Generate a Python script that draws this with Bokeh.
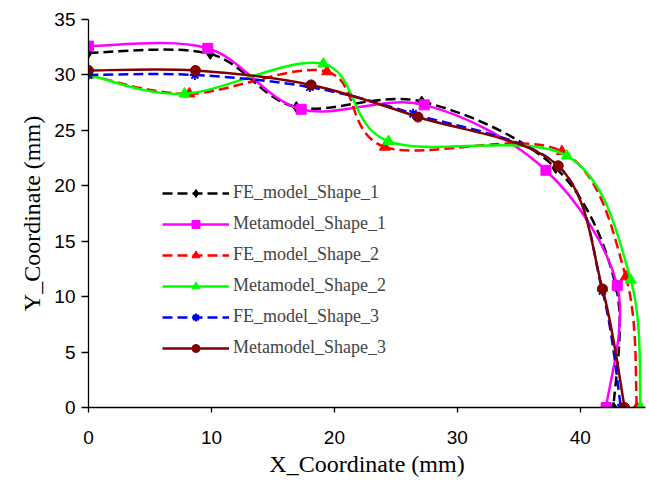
import numpy as np
from bokeh.plotting import figure
from bokeh.models import Range1d, Legend, LegendItem, FixedTicker
from bokeh.embed import file_html
from bokeh.resources import INLINE

# ---- data ----
x_fe1 = [0.0, 9.9, 16.9, 27.1, 38.0, 42.9, 42.7]
y_fe1 = [32.0, 31.9, 27.1, 27.6, 21.6, 10.9, 0.0]

x_meta1 = [0.0, 9.7, 17.3, 27.3, 37.2, 43.0, 42.1]
y_meta1 = [32.6, 32.4, 26.9, 27.3, 21.4, 11.0, 0.0]

x_fe2 = [0.0, 8.2, 19.4, 24.1, 38.5, 43.7, 44.6]
y_fe2 = [30.0, 28.3, 30.3, 23.5, 23.1, 11.8, 0.0]

x_meta2 = [0.0, 7.8, 19.1, 24.4, 38.9, 44.1, 44.9]
y_meta2 = [30.0, 28.3, 31.0, 24.0, 22.7, 11.5, 0.0]

x_fe3 = [0.0, 8.65, 18.0, 26.4, 38.2, 41.8, 43.3]
y_fe3 = [30.0, 30.0, 28.9, 26.5, 21.8, 10.5, 0.0]

x_meta3 = [0.0, 8.7, 18.1, 26.8, 38.2, 41.8, 43.6]
y_meta3 = [30.4, 30.4, 29.1, 26.2, 21.8, 10.7, 0.0]

labels = ["FE_model_Shape_1", "Metamodel_Shape_1", "FE_model_Shape_2",
          "Metamodel_Shape_2", "FE_model_Shape_3", "Metamodel_Shape_3"]
x_ticks = [0, 10, 20, 30, 40]
y_ticks = [0, 5, 10, 15, 20, 25, 30, 35]
x_title = "X_Coordinate (mm)"
y_title = "Y_Coordinate (mm)"


def smooth_segments(xs, ys):
    """Catmull-Rom style bezier control points (like a spreadsheet smoothed line)."""
    x = np.asarray(xs, float)
    y = np.asarray(ys, float)
    n = len(x)
    d = dict(x0=[], y0=[], x1=[], y1=[], cx0=[], cy0=[], cx1=[], cy1=[])
    for i in range(n - 1):
        im = max(i - 1, 0)
        ip2 = min(i + 2, n - 1)
        d["x0"].append(x[i]); d["y0"].append(y[i])
        d["x1"].append(x[i + 1]); d["y1"].append(y[i + 1])
        d["cx0"].append(x[i] + (x[i + 1] - x[im]) / 6.0)
        d["cy0"].append(y[i] + (y[i + 1] - y[im]) / 6.0)
        d["cx1"].append(x[i + 1] - (x[ip2] - x[i]) / 6.0)
        d["cy1"].append(y[i + 1] - (y[ip2] - y[i]) / 6.0)
    return d


p = figure(width=649, height=486, x_range=Range1d(0, 45.3), y_range=Range1d(0, 35),
           output_backend="svg", toolbar_location=None,
           min_border_left=88, min_border_right=4, min_border_top=19, min_border_bottom=79)
p.outline_line_color = None
p.xgrid.visible = False
p.ygrid.visible = False
p.background_fill_color = "white"
p.border_fill_color = "white"

series = [
    (x_fe1, y_fe1, "#000000", "10 5", "diamond", 11),
    (x_meta1, y_meta1, "#FF00FF", "solid", "square", 10),
    (x_fe2, y_fe2, "#FF0000", "10 5", "triangle", 11),
    (x_meta2, y_meta2, "#00FF00", "solid", "triangle", 11),
    (x_fe3, y_fe3, "#0000FF", "10 5", "asterisk", 10),
    (x_meta3, y_meta3, "#800000", "solid", "circle", 10),
]

items = []
for (xs, ys, col, dash, marker, size), lab in zip(series, labels):
    p.bezier(line_color=col, line_width=2.5, line_dash=dash, **smooth_segments(xs, ys))
    # single-point line: draws nothing in the plot, only supplies the legend swatch
    proxy = p.line(x=xs[:1], y=ys[:1], line_color=col, line_width=2.5, line_dash=dash)
    if marker == "asterisk":
        sc = p.scatter(xs, ys, marker=marker, size=size, line_color=col, line_width=2)
    else:
        sc = p.scatter(xs, ys, marker=marker, size=size, fill_color=col, line_color=col)
    items.append(LegendItem(label=lab, renderers=[proxy, sc]))

legend = Legend(items=items, location=(74, 49), glyph_width=67, glyph_height=20,
                label_height=20, spacing=10, padding=10, margin=0, label_standoff=4,
                label_text_font="Liberation Serif", label_text_font_size="18px",
                border_line_color=None, background_fill_alpha=0)
p.add_layout(legend, "center")

# axes
p.xaxis.ticker = FixedTicker(ticks=x_ticks)
p.yaxis.ticker = FixedTicker(ticks=y_ticks)
for ax in (p.xaxis, p.yaxis):
    ax.minor_tick_line_color = None
    ax.major_tick_in = 0
    ax.axis_line_color = "black"
    ax.axis_line_width = 1.3
    ax.major_tick_line_color = "black"
    ax.major_tick_line_width = 1.3
    ax.major_label_text_font = "Liberation Sans"
    ax.major_label_text_font_size = "19px"
    ax.major_label_text_color = "black"
    ax.axis_label_text_font = "Liberation Serif"
    ax.axis_label_text_font_size = "24px"
    ax.axis_label_text_font_style = "normal"
    ax.axis_label_text_color = "black"
p.xaxis.major_tick_out = 5
p.yaxis.major_tick_out = 7
p.xaxis.major_label_standoff = 18
p.yaxis.major_label_standoff = 6
p.xaxis.axis_label = x_title
p.yaxis.axis_label = y_title
p.xaxis.axis_label_standoff = 4
p.yaxis.axis_label_standoff = 6

open("out.html", "w").write(file_html(p, INLINE))
